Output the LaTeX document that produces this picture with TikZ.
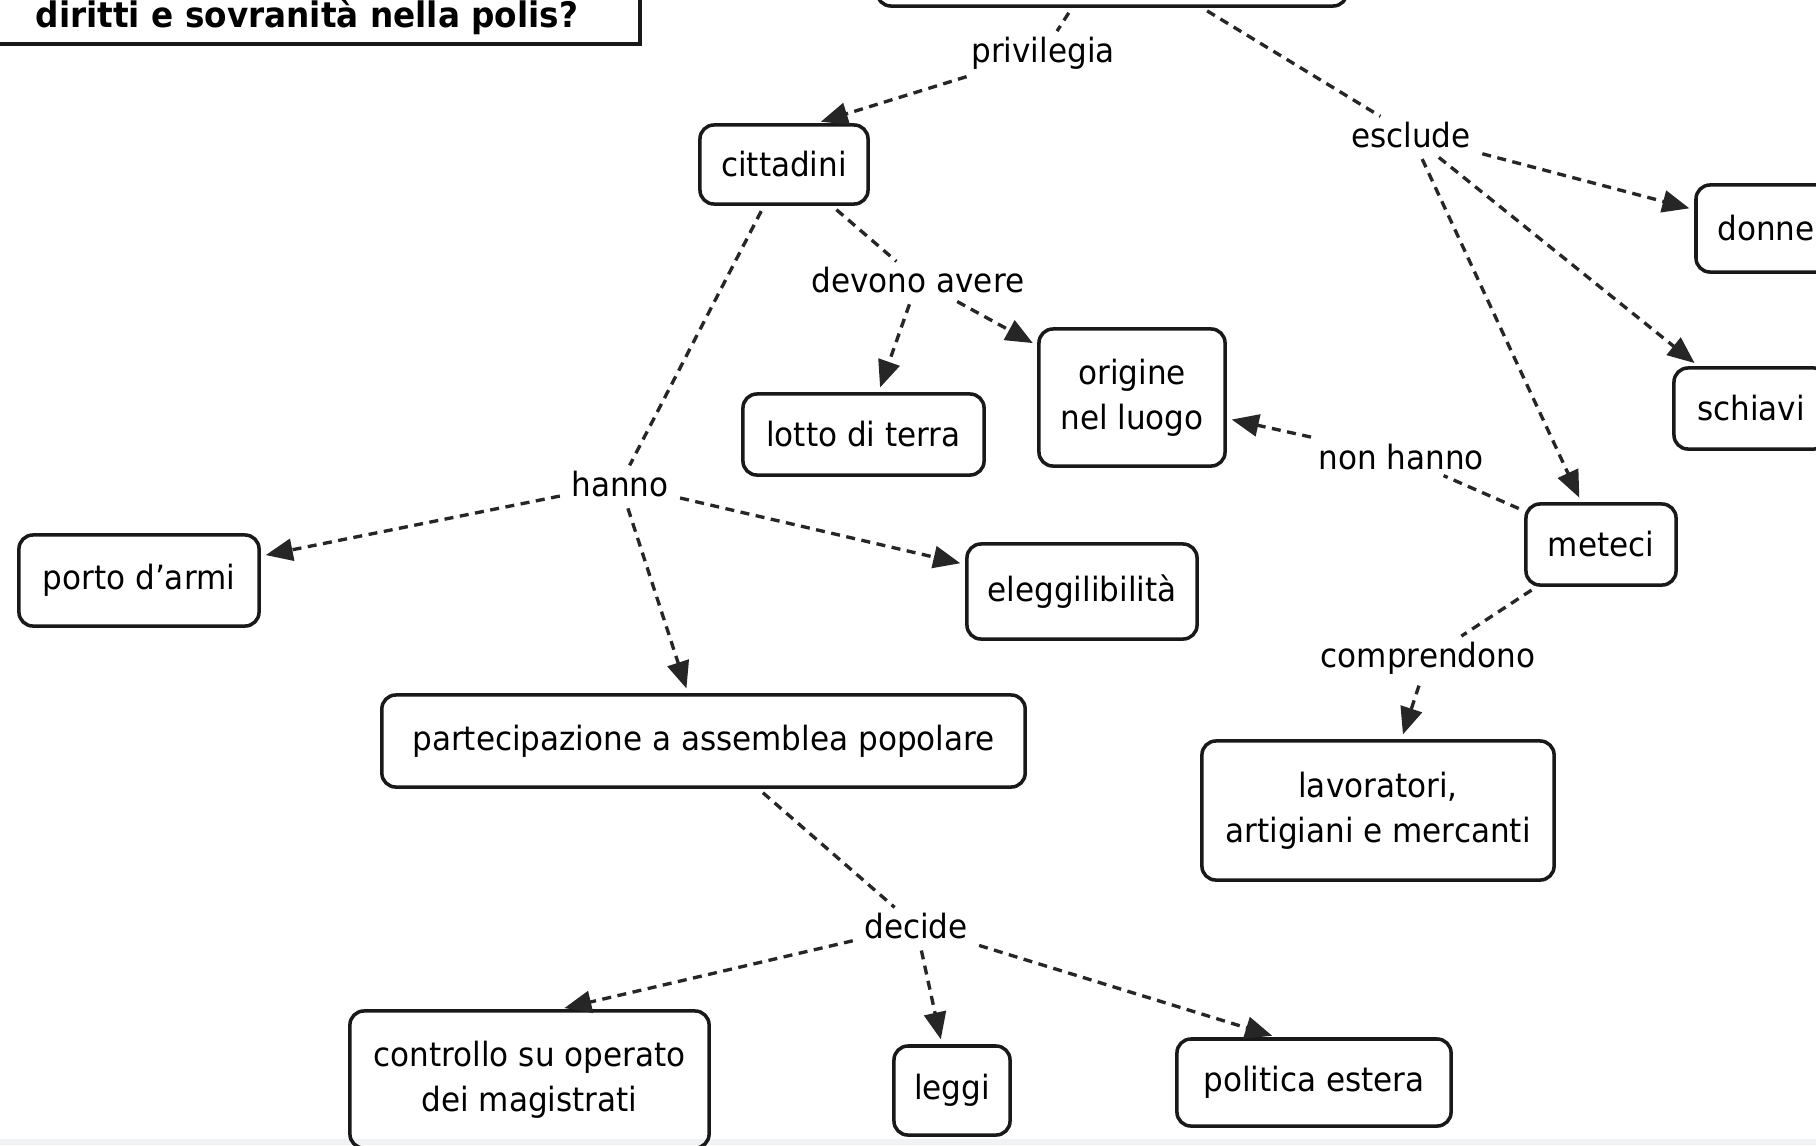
\documentclass[tikz,border=0pt]{standalone}
\usepackage{fontspec}
\setmainfont{DejaVu Sans}[FakeStretch=0.93]
\usetikzlibrary{arrows.meta,calc}
\newcommand\msize{\fontsize{9.5}{12.8}\selectfont}
\begin{document}
\begin{tikzpicture}[x=0.01cm,y=-0.01cm,
  box/.style={draw=black!90, line width=1pt, rounded corners=0.14cm, align=center, inner sep=0pt, font=\msize},
  qbox/.style={draw=black!90, line width=1pt, inner sep=0pt},
  lbl/.style={fill=white, inner sep=0.05cm, font=\msize},
  dl/.style={dash pattern=on 0.09cm off 0.065cm, line width=0.95pt, draw=black!85, shorten <=0.06cm},
  arr/.style={dl, -{Triangle[length=0.27cm,width=0.22cm]}, shorten >=0.05cm}]
\useasboundingbox (0,0) rectangle (1816,1145);
\clip (0,0) rectangle (1816,1145);
\fill[white] (0,0) rectangle (1816,1145);
\fill[cyan!8!gray!12] (0,1139) rectangle (1816,1145);

% cut-off boxes at the top
\node[qbox, minimum width=6.45cm, minimum height=1.04cm] (question) at (317.5,-8) {};
\node[anchor=base west, inner sep=0pt, font=\fontsize{10}{12}\selectfont\bfseries] (qtext) at (35,27) {diritti e sovranità nella polis?};
\node[box, minimum width=4.70cm, minimum height=0.66cm] (topbox) at (1112,-27) {};

% concept boxes
\node[box, minimum width=1.68cm, minimum height=0.79cm] (cittadini) at (784,164.5) {cittadini};
\node[box, minimum width=1.40cm, minimum height=0.87cm] (donne) at (1766,228.5) {donne};
\node[box, minimum width=1.54cm, minimum height=0.81cm] (schiavi) at (1751,408.5) {schiavi};
\node[box, minimum width=2.41cm, minimum height=0.81cm] (lotto) at (863.5,434.5) {lotto di terra};
\node[box, minimum width=1.86cm, minimum height=1.37cm] (origine) at (1132,397.5) {origine\\nel luogo};
\node[box, minimum width=1.50cm, minimum height=0.81cm] (meteci) at (1601,544.5) {meteci};
\node[box, minimum width=3.52cm, minimum height=1.39cm] (lavoratori) at (1378,810.5) {lavoratori,\\artigiani e mercanti};
\node[box, minimum width=2.40cm, minimum height=0.91cm] (porto) at (139,580.5) {porto d'armi};
\node[box, minimum width=2.30cm, minimum height=0.95cm] (elegg) at (1082,591.5) {eleggilibilità};
\node[box, minimum width=6.43cm, minimum height=0.92cm] (parte) at (703.5,741) {partecipazione a assemblea popolare};
\node[box, minimum width=3.59cm, minimum height=1.37cm] (controllo) at (529.5,1079.5) {controllo su operato\\dei magistrati};
\node[box, minimum width=1.16cm, minimum height=0.89cm] (leggi) at (952,1090.5) {leggi};
\node[box, minimum width=2.74cm, minimum height=0.87cm] (politica) at (1314,1082.5) {politica estera};

% linking phrases
\node[lbl] (privilegia) at (1043,53) {privilegia};
\node[lbl] (esclude) at (1411,135) {esclude};
\node[lbl] (devono) at (918,280) {devono avere};
\node[lbl] (nonhanno) at (1401,457) {non hanno};
\node[lbl] (comprendono) at (1428,658) {comprendono};
\node[lbl] (hanno) at (620,484) {hanno};
\node[lbl] (decide) at (916,926) {decide};

% connectors
\draw[dl] ($(topbox.south)+(-40,0)$) -- (privilegia);
\draw[arr] (privilegia) -- ($(cittadini.north)+(32,0)$);
\draw[dl] ($(topbox.south)+(90,0)$) -- (esclude);
\draw[arr] (esclude) -- (donne);
\draw[arr] (esclude) -- (schiavi);
\draw[arr] (esclude) -- (meteci);
\draw[dl] (cittadini) -- (devono);
\draw[arr] (devono) -- (lotto);
\draw[arr] (devono) -- (origine);
\draw[dl] (meteci) -- (nonhanno);
\draw[arr] (nonhanno) -- (origine);
\draw[dl] (meteci) -- (comprendono);
\draw[arr] (comprendono) -- (lavoratori);
\draw[dl] ($(cittadini.south)+(-20,0)$) -- (hanno);
\draw[arr] (hanno) -- (porto);
\draw[arr] (hanno) -- (elegg);
\draw[arr] (hanno) -- (parte);
\draw[dl] (parte) -- (decide);
\draw[arr] (decide) -- ($(controllo.north)+(30,0)$);
\draw[arr] (decide) -- (leggi);
\draw[arr] (decide) -- ($(politica.north)+(-37,0)$);
\end{tikzpicture}
\end{document}
